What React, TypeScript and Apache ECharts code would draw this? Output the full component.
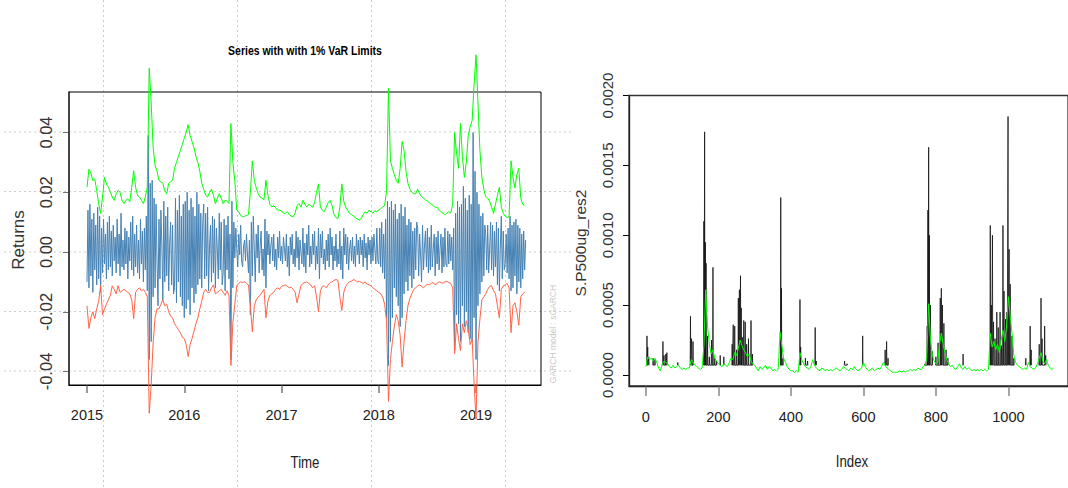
import React, { useEffect, useRef } from "react";
import * as echarts from "echarts";

// ---------- tick values ----------
const YEARS = [2015, 2016, 2017, 2018, 2019];
const RET_TICKS = [-0.04, -0.02, 0, 0.02, 0.04];
const RES_TICKS = [0, 0.0005, 0.001, 0.0015, 0.002];
const INDEX_TICKS = [0, 200, 400, 600, 800, 1000];

// ---------- sampling of the series ----------
const START_YEAR = 2015;
const RET_STEP = 0.01; // years between return samples
const VAR_STEP = 0.02; // years between VaR samples
const RES_STEP = 5; // index step of the fitted variance line

// daily returns (blue)
const returns = [
  -0.010, 0.014, -0.012, 0.016, -0.008, 0.011, -0.0135, 0.013, -0.006, 0.009,
  -0.011, 0.015, -0.009, 0.012, -0.0135, 0.008, -0.007, 0.011, -0.004, 0.006,
  -0.009, 0.010, -0.006, 0.012, -0.005, 0.007, -0.008, 0.009, -0.003, 0.005,
  -0.007, 0.011, -0.004, 0.006, -0.008, 0.013, -0.005, 0.004, -0.006, 0.008,
  -0.004, 0.007, -0.009, 0.005, -0.003, 0.010, -0.006, 0.012, -0.008, 0.006,
  -0.005, 0.009, -0.007, 0.004, -0.009, 0.011, -0.004, 0.007, -0.010, 0.008,
  -0.006, 0.012, -0.013, 0.039, -0.036, 0.023, -0.030, 0.024, -0.015, 0.018,
  -0.012, 0.016, -0.003, -0.018, 0.011, -0.009, 0.014, 0.002, -0.016, 0.017,
  -0.010, 0.012, -0.008, 0.015, -0.013, 0.003, 0.010, -0.011, 0.009, -0.014,
  -0.012, 0.018, -0.017, 0.014, -0.010, 0.019, -0.015, 0.012, -0.018, 0.016,
  -0.022, 0.017, -0.019, 0.020, -0.016, 0.014, -0.021, 0.018, -0.012, 0.015,
  -0.017, 0.012, -0.014, 0.020, -0.011, 0.016, -0.009, 0.013, -0.012, 0.010,
  0.016, -0.009, 0.013, -0.008, 0.015, -0.013, 0.002, 0.009, -0.010, 0.012,
  -0.007, 0.011, -0.012, 0.008, 0.001, -0.009, 0.013, -0.006, 0.010, -0.011,
  -0.007, 0.011, -0.013, 0.009, -0.006, 0.012, -0.009, 0.006, -0.036, 0.017,
  -0.012, 0.010, -0.002, 0.008, 0.001, -0.005, 0.006, -0.001, 0.009, -0.003,
  -0.005, 0.002, 0.004, -0.003, 0.006, -0.001, -0.007, 0.004, -0.021, 0.010,
  -0.008, 0.012, 0.001, -0.010, 0.006, -0.002, 0.009, -0.007, 0.002, 0.007,
  -0.006, 0.001, -0.008, 0.011, -0.012, 0.007, -0.001, 0.006, -0.004, 0.002,
  0.005, -0.003, 0.006, -0.005, 0.001, -0.006, 0.005, -0.002, 0.007, -0.003,
  0.002, -0.004, 0.005, 0.001, -0.003, 0.006, -0.005, 0.002, -0.008, 0.005,
  -0.001, 0.006, -0.004, 0.001, -0.005, 0.007, -0.002, 0.005, -0.006, 0.004,
  0.000, -0.004, 0.008, -0.005, 0.003, -0.007, 0.006, -0.001, 0.009, -0.005,
  0.002, -0.004, 0.006, -0.001, 0.007, -0.006, 0.002, -0.004, 0.008, -0.009,
  0.006, -0.002, 0.007, -0.004, 0.001, -0.006, 0.004, -0.003, 0.006, -0.005,
  0.008, -0.001, 0.005, -0.006, 0.002, -0.003, 0.006, -0.005, 0.001, -0.004,
  0.007, -0.006, 0.002, -0.009, 0.008, -0.001, 0.006, -0.004, 0.005, -0.006,
  0.001, 0.004, -0.003, 0.005, -0.004, 0.002, -0.005, 0.006, -0.001, 0.004,
  -0.004, 0.005, -0.001, 0.004, -0.005, 0.006, -0.002, 0.003, -0.006, 0.005,
  -0.001, 0.004, -0.004, 0.005, -0.003, 0.006, 0.001, -0.004, 0.008, -0.003,
  -0.004, 0.008, -0.005, 0.010, -0.007, 0.006, -0.009, 0.011, -0.022, 0.017,
  -0.038, 0.015, -0.030, 0.017, -0.022, 0.014, -0.012, 0.016, -0.015, 0.011,
  -0.018, 0.013, -0.025, 0.016, -0.022, 0.012, -0.014, 0.015, -0.010, 0.009,
  -0.013, 0.011, -0.008, 0.010, -0.012, 0.007, -0.009, 0.008, -0.006, 0.010,
  0.008, -0.008, 0.006, -0.001, -0.010, 0.009, -0.006, 0.002, 0.007, -0.005,
  0.008, -0.007, 0.005, -0.006, 0.009, -0.005, 0.001, 0.006, -0.008, 0.005,
  -0.004, 0.007, -0.006, 0.001, 0.006, -0.007, 0.005, -0.005, 0.008, -0.004,
  -0.005, 0.007, -0.004, 0.006, -0.003, 0.005, -0.006, 0.008, -0.033, 0.013,
  -0.021, 0.017, -0.024, 0.015, -0.030, 0.016, -0.018, 0.022, -0.025, 0.018,
  -0.020, 0.014, -0.027, 0.019, -0.029, 0.016, -0.030, 0.040, -0.022, 0.027,
  -0.036, 0.020, -0.018, 0.016, -0.014, 0.012, -0.010, 0.013, -0.008, 0.009,
  0.006, -0.006, 0.009, -0.007, 0.001, 0.010, -0.006, 0.009, -0.008, 0.007,
  -0.005, 0.010, -0.011, 0.008, -0.013, 0.002, 0.012, -0.009, 0.007, -0.006,
  -0.004, 0.006, -0.007, 0.008, -0.009, 0.012, -0.013, 0.009, -0.012, 0.010,
  -0.008, 0.011, -0.014, 0.009, -0.010, 0.008, -0.012, 0.006, -0.009, 0.007,
  -0.006, 0.004,
];

// upper 1% VaR limit (green)
const varUpper = [
  0.0217, 0.0277, 0.0265, 0.0239, 0.0244, 0.0206, 0.0162, 0.0129, 0.0184, 0.0250,
  0.0228, 0.0217, 0.0200, 0.0184, 0.0173, 0.0195, 0.0206, 0.0200, 0.0173, 0.0162,
  0.0173, 0.0178, 0.0168, 0.0217, 0.0272, 0.0217, 0.0189, 0.0184, 0.0173, 0.0162,
  0.0184, 0.0217, 0.0615, 0.0500, 0.0350, 0.0290, 0.0270, 0.0240, 0.0235, 0.0230,
  0.0205, 0.0195, 0.0230, 0.0235, 0.0240, 0.0280, 0.0300, 0.0320, 0.0340, 0.0360,
  0.0380, 0.0400, 0.0426, 0.0390, 0.0370, 0.0350, 0.0320, 0.0300, 0.0270, 0.0230,
  0.0210, 0.0190, 0.0184, 0.0200, 0.0210, 0.0190, 0.0162, 0.0180, 0.0195, 0.0180,
  0.0162, 0.0173, 0.0170, 0.0162, 0.0430, 0.0300, 0.0237, 0.0140, 0.0135, 0.0122,
  0.0118, 0.0120, 0.0122, 0.0125, 0.0200, 0.0305, 0.0240, 0.0215, 0.0195, 0.0184,
  0.0180, 0.0175, 0.0240, 0.0190, 0.0160, 0.0151, 0.0155, 0.0148, 0.0140, 0.0140,
  0.0138, 0.0130, 0.0129, 0.0135, 0.0125, 0.0120, 0.0118, 0.0130, 0.0155, 0.0162,
  0.0150, 0.0173, 0.0160, 0.0150, 0.0160, 0.0155, 0.0150, 0.0165, 0.0200, 0.0228,
  0.0150, 0.0140, 0.0135, 0.0150, 0.0165, 0.0173, 0.0155, 0.0125, 0.0115, 0.0112,
  0.0150, 0.0228, 0.0170, 0.0150, 0.0140, 0.0129, 0.0125, 0.0120, 0.0115, 0.0110,
  0.0107, 0.0112, 0.0125, 0.0135, 0.0130, 0.0140, 0.0135, 0.0130, 0.0138, 0.0135,
  0.0140, 0.0145, 0.0150, 0.0155, 0.0205, 0.0548, 0.0305, 0.0280, 0.0260, 0.0240,
  0.0230, 0.0280, 0.0370, 0.0340, 0.0270, 0.0230, 0.0210, 0.0200, 0.0195, 0.0195,
  0.0210, 0.0195, 0.0185, 0.0180, 0.0175, 0.0170, 0.0165, 0.0160, 0.0155, 0.0150,
  0.0150, 0.0140, 0.0135, 0.0130, 0.0125, 0.0130, 0.0135, 0.0130, 0.0160, 0.0400,
  0.0330, 0.0280, 0.0430, 0.0320, 0.0250, 0.0300, 0.0390, 0.0420, 0.0440, 0.0560,
  0.0660, 0.0500, 0.0340, 0.0250, 0.0210, 0.0185, 0.0180, 0.0170, 0.0150, 0.0129,
  0.0160, 0.0190, 0.0217, 0.0150, 0.0130, 0.0120, 0.0115, 0.0118, 0.0305, 0.0250,
  0.0215, 0.0260, 0.0280, 0.0180, 0.0160, 0.0155,
];

// lower 1% VaR limit (red)
const varLower = [
  -0.0180, -0.0256, -0.0220, -0.0200, -0.0223, -0.0190, -0.0165, -0.0113, -0.0210, -0.0190,
  -0.0175, -0.0160, -0.0145, -0.0113, -0.0125, -0.0140, -0.0113, -0.0135, -0.0130, -0.0125,
  -0.0130, -0.0135, -0.0140, -0.0160, -0.0223, -0.0135, -0.0125, -0.0120, -0.0130, -0.0125,
  -0.0135, -0.0150, -0.0540, -0.0445, -0.0305, -0.0220, -0.0190, -0.0190, -0.0175, -0.0160,
  -0.0180, -0.0175, -0.0200, -0.0215, -0.0220, -0.0240, -0.0250, -0.0260, -0.0270, -0.0285,
  -0.0290, -0.0310, -0.0350, -0.0310, -0.0290, -0.0265, -0.0240, -0.0220, -0.0190, -0.0165,
  -0.0135, -0.0125, -0.0135, -0.0135, -0.0120, -0.0110, -0.0140, -0.0135, -0.0130, -0.0125,
  -0.0135, -0.0145, -0.0130, -0.0145, -0.0380, -0.0235, -0.0175, -0.0113, -0.0105, -0.0100,
  -0.0102, -0.0100, -0.0105, -0.0110, -0.0180, -0.0267, -0.0180, -0.0160, -0.0150, -0.0145,
  -0.0135, -0.0125, -0.0220, -0.0165, -0.0145, -0.0140, -0.0135, -0.0125, -0.0120, -0.0125,
  -0.0115, -0.0113, -0.0110, -0.0115, -0.0120, -0.0118, -0.0125, -0.0135, -0.0170, -0.0140,
  -0.0113, -0.0105, -0.0102, -0.0100, -0.0105, -0.0110, -0.0120, -0.0113, -0.0150, -0.0200,
  -0.0130, -0.0115, -0.0113, -0.0120, -0.0110, -0.0102, -0.0100, -0.0095, -0.0092, -0.0095,
  -0.0150, -0.0196, -0.0135, -0.0115, -0.0105, -0.0100, -0.0098, -0.0092, -0.0095, -0.0100,
  -0.0098, -0.0102, -0.0105, -0.0100, -0.0108, -0.0110, -0.0113, -0.0120, -0.0125, -0.0130,
  -0.0135, -0.0140, -0.0150, -0.0175, -0.0230, -0.0500, -0.0360, -0.0300, -0.0250, -0.0210,
  -0.0230, -0.0280, -0.0385, -0.0300, -0.0230, -0.0180, -0.0155, -0.0140, -0.0125, -0.0120,
  -0.0113, -0.0110, -0.0115, -0.0120, -0.0113, -0.0108, -0.0110, -0.0105, -0.0102, -0.0110,
  -0.0105, -0.0100, -0.0102, -0.0105, -0.0100, -0.0098, -0.0102, -0.0105, -0.0120, -0.0340,
  -0.0240, -0.0290, -0.0330, -0.0240, -0.0270, -0.0230, -0.0260, -0.0310, -0.0290, -0.0440,
  -0.0560, -0.0300, -0.0225, -0.0160, -0.0150, -0.0140, -0.0125, -0.0115, -0.0113, -0.0130,
  -0.0140, -0.0180, -0.0220, -0.0125, -0.0113, -0.0110, -0.0105, -0.0120, -0.0270, -0.0180,
  -0.0170, -0.0200, -0.0245, -0.0150, -0.0140, -0.0135,
];

// fitted variance of S.P500ug_res2 (green, right panel), every RES_STEP observations
const fittedVar = [
  0.00006, 0.00013, 0.00011, 0.00012, 0.0001, 0.00012, 0.00009, 0.00005, 0.00003,
  0.00008, 0.0001, 0.00009, 0.00008, 0.00006, 0.00005, 0.00007, 0.00005,
  0.00006, 0.00007, 0.00005, 0.00004, 0.00005, 0.00004, 0.00005, 0.00005,
  0.00011, 0.00009, 0.00007, 0.00006, 0.00005, 0.00004, 0.00005, 0.00021,
  0.00061, 0.00035, 0.00022, 0.00015, 0.00018, 0.00012, 0.0001, 0.00008,
  0.00007, 0.00006, 0.00008, 0.00007, 0.00006, 0.00009, 0.00012, 0.00011,
  0.00016, 0.00014, 0.00019, 0.00025, 0.00021, 0.00018, 0.00016, 0.00013,
  0.00015, 0.0001, 0.00008, 0.00007, 0.00005, 0.00003, 0.00006, 0.00004,
  0.00005, 0.00007, 0.00004, 0.00006, 0.00005, 0.00003, 0.00004, 0.00003,
  0.00004, 0.00031, 0.00021, 0.00012, 0.00009, 0.00006, 0.00004, 0.00003,
  0.00003, 0.00002, 0.00003, 0.00002, 0.00016, 0.00011, 0.00008, 0.00006,
  0.00005, 0.00004, 0.00006, 0.00011, 0.00007, 0.00005, 0.00004, 0.00003,
  0.00005, 0.00004, 0.00003, 0.00004, 0.00003, 0.00004, 0.00003, 0.00004,
  0.00005, 0.00004, 0.00003, 0.00004, 0.00006, 0.00005, 0.00004, 0.00003,
  0.00005, 0.00004, 0.00006, 0.00004, 0.00003, 0.00004, 0.00005, 0.00009,
  0.00006, 0.00004, 0.00003, 0.00004, 0.00005, 0.00003, 0.00004, 0.00005,
  0.00004, 0.00006, 0.00009, 0.00007, 0.00005, 0.00004, 0.00003, 0.00002,
  0.00002, 0.00002, 0.00002, 0.00003, 0.00002, 0.00003, 0.00002, 0.00003,
  0.00003, 0.00004, 0.00003, 0.00004, 0.00003, 0.00005, 0.00004, 0.00004,
  0.00006, 0.00007, 0.00012, 0.00051, 0.00025, 0.00015, 0.0001, 0.00008,
  0.00009, 0.00022, 0.0003, 0.00022, 0.00016, 0.00011, 0.00008, 0.00006,
  0.00007, 0.00005, 0.00004, 0.00006, 0.00008, 0.00005, 0.00004, 0.00006,
  0.00004, 0.00005, 0.00004, 0.00003, 0.00004, 0.00003, 0.00004, 0.00003,
  0.00004, 0.00003, 0.00004, 0.00003, 0.00004,
  0.0003, 0.0002, 0.00024, 0.00018, 0.00022, 0.00016, 0.00025, 0.00032, 0.00024, 0.00035,
  0.00056, 0.00042, 0.0003, 0.00014, 0.00009,
  0.00007, 0.00006, 0.00005, 0.00004, 0.00005, 0.00004, 0.00009, 0.00006,
  0.00005, 0.00004, 0.00005, 0.00008, 0.00012, 0.00016, 0.0001, 0.00008, 0.00011,
  0.00007, 0.00005, 0.00004, 0.00005,
];

// squared residuals (black spikes): observation index and value
const spikeIndex = [
  3, 5, 8, 20, 25, 47, 50, 55, 58, 88,
  123, 126, 130, 160, 162, 164, 166, 170, 175, 181, 185, 190, 195, 205, 215,
  238, 241, 245, 250, 255, 258, 261, 263, 266, 270, 274, 278, 283, 290, 294,
  372, 374, 378, 425, 427, 440, 446, 467, 470, 548, 555, 598, 660, 664, 668,
  770, 776, 778, 780, 782, 785, 790, 800, 806, 812, 815, 818, 822, 828, 833, 875,
  950, 953, 956, 959, 963, 968, 972, 977, 981, 985, 988, 992, 996, 999, 1002, 1005, 1010, 1015,
  1048, 1060, 1063, 1085, 1090, 1093, 1100, 1103,
];
const spikeValue = [
  0.00028, 0.0002, 0.00013, 0.00012, 0.00011, 0.00024, 0.00014, 0.00015, 0.00016, 0.00009,
  0.00042, 0.00026, 0.00024, 0.0011, 0.00174, 0.00095, 0.0008, 0.00028, 0.00013, 0.00025, 0.00077, 0.00012, 0.0001, 0.00014, 0.00013,
  0.00022, 0.00036, 0.00035, 0.00018, 0.00055, 0.00061, 0.00071, 0.00048, 0.00027, 0.00039, 0.00038, 0.00022, 0.00026, 0.00039, 0.00015,
  0.00127, 0.00062, 0.00012, 0.00054, 0.0002, 0.00012, 0.0001, 0.00034, 0.0001, 0.0001, 0.00008, 0.00028, 0.00018, 0.00024, 0.00012,
  0.00008, 0.00035, 0.00118, 0.00163, 0.001, 0.0005, 0.00017, 0.00013, 0.00023, 0.00055, 0.00062, 0.0005, 0.00037, 0.00018, 0.00012, 0.00015,
  0.00107, 0.0005, 0.001, 0.00038, 0.00026, 0.00045, 0.00034, 0.00045, 0.00021, 0.00107, 0.0006, 0.0004, 0.00045, 0.00185, 0.0009, 0.00065, 0.00028, 0.00012,
  0.00012, 0.00035, 0.00018, 0.00022, 0.00055, 0.00026, 0.00035, 0.00014,
];
const SPIKE_BASE = 0.00007;

const SANS = "'Liberation Sans', Arial, sans-serif";

export default function App() {
  const ref = useRef<HTMLDivElement>(null);

  useEffect(() => {
    if (!ref.current) return;
    const chart = echarts.init(ref.current, undefined, { renderer: "svg" });

    const retData = returns.map((v, i) => [START_YEAR + i * RET_STEP, v]);
    const upData = varUpper.map((v, i) => [START_YEAR + i * VAR_STEP, v]);
    const loData = varLower.map((v, i) => [START_YEAR + i * VAR_STEP, v]);
    const fitData = fittedVar.map((v, i) => [i * RES_STEP, v]);

    const spikeData: any[] = [];
    spikeIndex.forEach((idx, k) => {
      if (k > 0 && idx - spikeIndex[k - 1] > 8) spikeData.push([idx - 1, "-"]);
      spikeData.push([idx - 0.8, SPIKE_BASE], [idx, spikeValue[k]], [idx + 0.8, SPIKE_BASE]);
    });

    const vLines = [103.5, 237.5, 371.5, 505.5].map((x) => ({
      type: "line",
      z: 0,
      silent: true,
      shape: { x1: x, y1: 0, x2: x, y2: 488 },
      style: { stroke: "#cccccc", lineWidth: 1, lineDash: [2, 3] },
    }));
    const hLines = [132, 191.5, 252, 311.5, 371].map((y) => ({
      type: "line",
      z: 0,
      silent: true,
      shape: { x1: 4, y1: y, x2: 572, y2: y },
      style: { stroke: "#cccccc", lineWidth: 1, lineDash: [2, 3] },
    }));

    const txt = (text: string, x: number, y: number, size: number, extra: any = {}) => ({
      type: "text",
      z: 10,
      silent: true,
      x,
      y,
      rotation: extra.rotation || 0,
      scaleX: extra.scaleX || 1,
      scaleY: extra.scaleY || 1,
      style: {
        text,
        fontSize: size,
        fontFamily: SANS,
        fontWeight: extra.weight || "normal",
        fill: extra.fill || "#222",
        align: "center",
        verticalAlign: "middle",
      },
    });

    const option: any = {
      animation: false,
      backgroundColor: "#ffffff",
      grid: [
        { left: 69, top: 92, width: 472, height: 293, show: true, borderColor: "#000", borderWidth: 1, z: 1 },
        { left: 629, top: 95.5, width: 442, height: 290.5, show: true, borderColor: "#333", borderWidth: 1.3, z: 1 },
      ],
      xAxis: [
        {
          gridIndex: 0,
          type: "value",
          min: 2014.815,
          max: 2019.668,
          axisLine: { show: true, onZero: false, lineStyle: { color: "#000", width: 1 } },
          axisTick: { show: true, customValues: YEARS, length: 8, lineStyle: { color: "#777", width: 1.5 } },
          axisLabel: {
            customValues: YEARS,
            margin: 22,
            fontSize: 14.5,
            fontFamily: SANS,
            color: "#222",
            formatter: (v: number) => String(v),
          },
          splitLine: { show: false },
        },
        {
          gridIndex: 1,
          type: "value",
          min: -46.6,
          max: 1164.4,
          axisLine: { show: true, onZero: false, lineStyle: { color: "#000", width: 1.3 } },
          axisTick: { show: true, customValues: INDEX_TICKS, length: 10, lineStyle: { color: "#888", width: 1.5 } },
          axisLabel: {
            customValues: INDEX_TICKS,
            margin: 23,
            fontSize: 14.5,
            fontFamily: SANS,
            color: "#222",
            formatter: (v: number) => String(v),
          },
          splitLine: { show: false },
        },
      ],
      yAxis: [
        {
          gridIndex: 0,
          type: "value",
          min: -0.044519,
          max: 0.053557,
          axisLine: { show: true, onZero: false, lineStyle: { color: "#8a8a8a", width: 2 } },
          axisTick: { show: true, customValues: RET_TICKS, length: 6, lineStyle: { color: "#777" } },
          axisLabel: {
            customValues: RET_TICKS,
            rotate: 90,
            margin: 15,
            fontSize: 16.5,
            fontFamily: SANS,
            color: "#333",
            formatter: (v: number) => Number(v).toFixed(2),
          },
          splitLine: { show: false },
        },
        {
          gridIndex: 1,
          type: "value",
          min: -0.0000787,
          max: 0.002,
          axisLine: { show: true, onZero: false, lineStyle: { color: "#000", width: 1.3 } },
          axisTick: { show: true, customValues: RES_TICKS, length: 6, lineStyle: { color: "#000" } },
          axisLabel: {
            customValues: RES_TICKS,
            rotate: 90,
            margin: 14,
            fontSize: 15,
            fontFamily: SANS,
            color: "#333",
            formatter: (v: number) => Number(v).toFixed(4),
          },
          splitLine: { show: false },
        },
      ],
      series: [
        {
          type: "line",
          xAxisIndex: 0,
          yAxisIndex: 0,
          data: retData,
          symbol: "none",
          clip: false,
          silent: true,
          z: 2,
          lineStyle: { color: "#4682b4", width: 1 },
        },
        {
          type: "line",
          xAxisIndex: 0,
          yAxisIndex: 0,
          data: loData,
          symbol: "none",
          clip: false,
          silent: true,
          z: 3,
          lineStyle: { color: "#ff6347", width: 1 },
        },
        {
          type: "line",
          xAxisIndex: 0,
          yAxisIndex: 0,
          data: upData,
          symbol: "none",
          clip: false,
          silent: true,
          z: 3,
          lineStyle: { color: "#00ff00", width: 1 },
        },
        {
          type: "line",
          xAxisIndex: 1,
          yAxisIndex: 1,
          data: spikeData,
          symbol: "none",
          connectNulls: false,
          silent: true,
          z: 2,
          lineStyle: { color: "#111", width: 0.8 },
        },
        {
          type: "line",
          xAxisIndex: 1,
          yAxisIndex: 1,
          data: fitData,
          symbol: "none",
          silent: true,
          z: 3,
          lineStyle: { color: "#00ff00", width: 1 },
        },
      ],
      graphic: [
        ...vLines,
        ...hLines,
        txt("Series with with 1% VaR Limits", 305, 51, 12.5, { weight: "bold", fill: "#000", scaleX: 0.84 }),
        txt("Time", 305, 462, 17, { scaleX: 0.78 }),
        txt("Index", 852, 461, 17, { scaleX: 0.78 }),
        txt("Returns", 18, 240, 17, { rotation: Math.PI / 2, fill: "#333" }),
        txt("S.P500ug_res2", 580, 243, 15.5, { rotation: Math.PI / 2, fill: "#333" }),
        txt("GARCH model : sGARCH", 553, 334, 8.5, { rotation: Math.PI / 2, fill: "#c8c8c8" }),
      ],
    };

    chart.setOption(option);
    return () => chart.dispose();
  }, []);

  return (
    <div
      ref={ref}
      style={{ position: "fixed", left: 0, top: 0, width: 1068, height: 488, background: "#fff" }}
    />
  );
}
